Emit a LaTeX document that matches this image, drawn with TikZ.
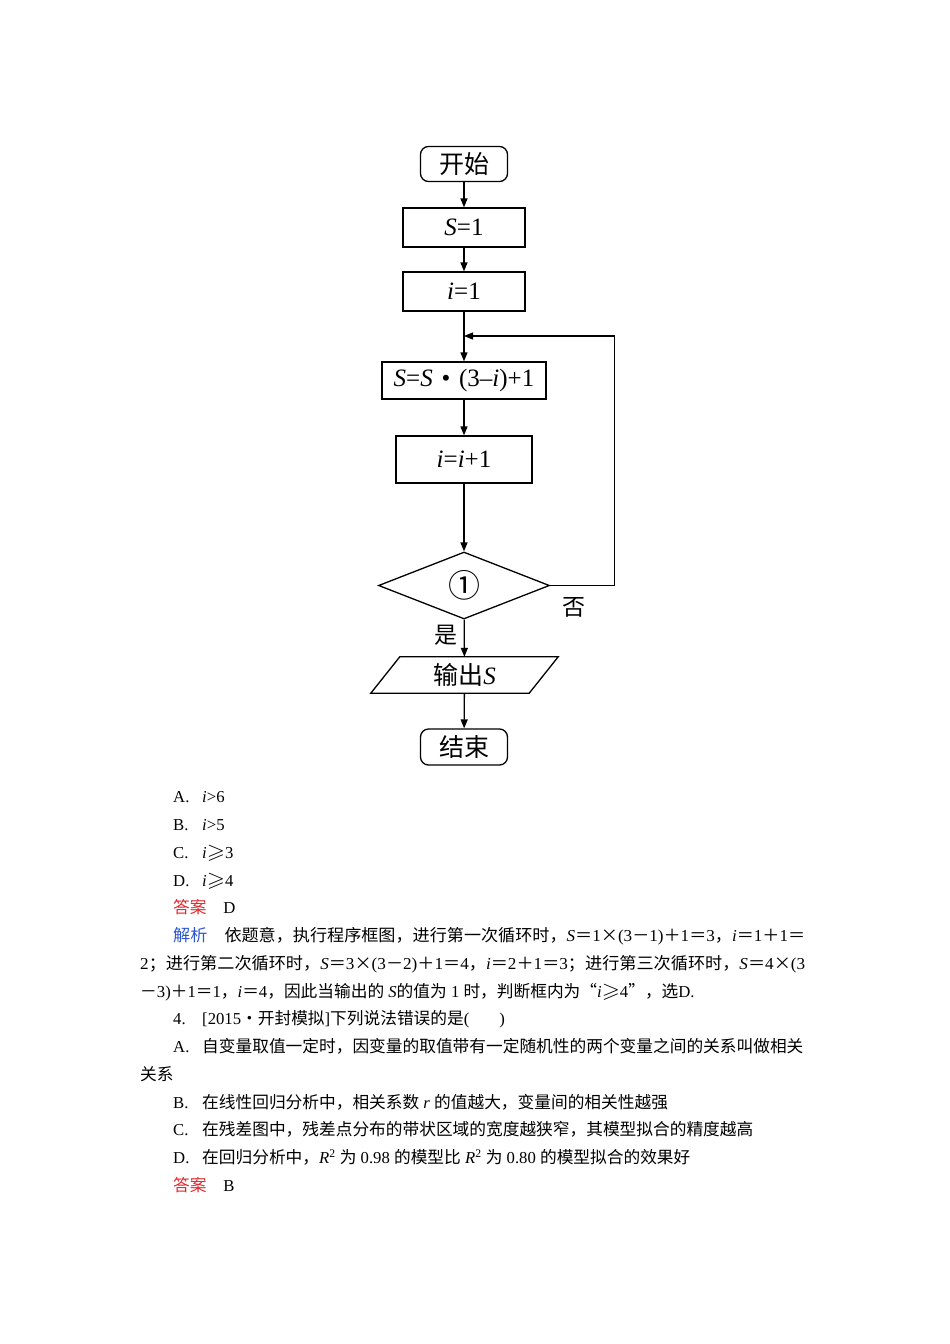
\documentclass[tikz,border=0pt]{standalone}
\usepackage{fontspec}
\usepackage{amssymb}
\setmainfont{Liberation Serif}
\newfontfamily\cjk{Noto Sans CJK SC}
\usetikzlibrary{shapes.geometric,arrows.meta}
\definecolor{ansred}{RGB}{226,38,44}
\definecolor{anablue}{RGB}{45,85,205}
\newcommand\zh[1]{{\cjk #1}}
\newcommand\hs{\hspace{0.25em}}
\newcommand\opt[1]{\makebox[29pt][l]{#1}}
\newcommand\geqs{\scalebox{1.4}[1.25]{$\geqslant$}}
\newcommand\fitto[2]{\resizebox{#1}{\height}{#2}}
\newcommand\fcfont{\fontsize{25}{30}\selectfont}
\newcommand\bodyfont{\fontsize{16.7}{20}\selectfont}
\begin{document}
\begin{tikzpicture}[x=1pt,y=-1pt,
  box/.style={draw,line width=1.3pt,rectangle,inner sep=0pt,font=\fcfont},
  term/.style={box,rounded corners=8pt},
  arr/.style={line width=1.3pt,-{Triangle[length=9pt,width=7pt]}},
  plain/.style={line width=1.3pt},
  lbl/.style={inner sep=0pt,font=\fontsize{23}{26}\selectfont},
  body/.style={anchor=base west,inner sep=0pt,font=\bodyfont}]
\fill[white] (0,0) rectangle (950,1344);
\useasboundingbox (0,0) rectangle (950,1344);
% flowchart
\node[term,minimum width=87pt,minimum height=35pt] (start) at (464,164) {\zh{开始}};
\node[box,minimum width=122pt,minimum height=39pt] (s1) at (464,227.5) {\textit{S}=1};
\node[box,minimum width=122pt,minimum height=39pt] (i1) at (464,291.5) {\textit{i}=1};
\node[box,minimum width=164pt,minimum height=37pt] (upd) at (464,380.5) {\textit{S}=\textit{S}\hspace{.35em}•\hspace{.35em}(3–\textit{i})+1};
\node[box,minimum width=136pt,minimum height=47pt] (inc) at (464,459.5) {\textit{i}=\textit{i}+1};
\node[draw,diamond,line width=1.3pt,inner sep=0pt,minimum width=171pt,minimum height=67pt,font=\fontsize{32}{34}\selectfont] (dec) at (464,585.5) {\zh{①}};
\node[inner sep=0pt,minimum width=187pt,minimum height=36pt,font=\fcfont] (out) at (464.5,675) {\zh{输出}\textit{S}};
\draw[plain] (out.south west) -- ([xshift=-29pt]out.south east) -- (out.north east) -- ([xshift=29pt]out.north west) -- cycle;
\node[term,minimum width=87pt,minimum height=36pt] (end) at (464,747) {\zh{结束}};
\coordinate (join) at (464,336);
\draw[arr] (start) -- (s1);
\draw[arr] (s1) -- (i1);
\draw[arr] (i1) -- (upd);
\draw[arr] (upd) -- (inc);
\draw[arr] (inc) -- (dec);
\draw[arr] (dec) -- (out);
\draw[arr] (out) -- (end);
\draw[arr] (dec.east) -- ++(64,0) |- (join);
\node[lbl] (yes) at (446,635) {\zh{是}};
\node[lbl] (no) at (574,607) {\zh{否}};
% text
\node[body] (l1) at (173,802.8) {\opt{A.}\textit{i}>6};
\node[body] (l2) at (173,830.5) {\opt{B.}\textit{i}>5};
\node[body] (l3) at (173,858.3) {\opt{C.}\textit{i}\geqs3};
\node[body] (l4) at (173,886.0) {\opt{D.}\textit{i}\geqs4};
\node[body] (l5) at (173,913.8) {{\color{ansred}\zh{答案}}\zh{　}D};
\node[body] (l6) at (173,941.5) {\fitto{632pt}{{\color{anablue}\zh{解析}}\zh{　依题意，执行程序框图，进行第一次循环时，}\textit{S}\zh{＝}1\zh{×}(3\zh{－}1)\zh{＋}1\zh{＝}3\zh{，}\textit{i}\zh{＝}1\zh{＋}1\zh{＝}}};
\node[body] (l7) at (140,969.3) {\fitto{665pt}{2\zh{；进行第二次循环时，}\textit{S}\zh{＝}3\zh{×}(3\zh{－}2)\zh{＋}1\zh{＝}4\zh{，}\textit{i}\zh{＝}2\zh{＋}1\zh{＝}3\zh{；进行第三次循环时，}\textit{S}\zh{＝}4\zh{×}(3}};
\node[body] (l8) at (140,997.0) {\zh{－}3)\zh{＋}1\zh{＝}1\zh{，}\textit{i}\zh{＝}4\zh{，因此当输出的}\hs\textit{S}\zh{的值为}\hs1\hs\zh{时，判断框内为“}\textit{i}\geqs4\zh{”，选}D.};
\node[body] (l9) at (173,1024.8) {\opt{4.}[2015\zh{•开封模拟}]\zh{下列说法错误的是}(\hspace{1.8em})};
\node[body] (l10) at (173,1052.5) {\opt{A.}\zh{自变量取值一定时，因变量的取值带有一定随机性的两个变量之间的关系叫做相关}};
\node[body] (l11) at (140,1080.3) {\zh{关系}};
\node[body] (l12) at (173,1108.0) {\opt{B.}\zh{在线性回归分析中，相关系数}\hs\textit{r}\hs\zh{的值越大，变量间的相关性越强}};
\node[body] (l13) at (173,1135.8) {\opt{C.}\zh{在残差图中，残差点分布的带状区域的宽度越狭窄，其模型拟合的精度越高}};
\node[body] (l14) at (173,1163.5) {\opt{D.}\zh{在回归分析中，}\textit{R}\textsuperscript{2}\hs\zh{为}\hs0.98\hs\zh{的模型比}\hs\textit{R}\textsuperscript{2}\hs\zh{为}\hs0.80\hs\zh{的模型拟合的效果好}};
\node[body] (l15) at (173,1191.3) {{\color{ansred}\zh{答案}}\zh{　}B};
\end{tikzpicture}
\end{document}
